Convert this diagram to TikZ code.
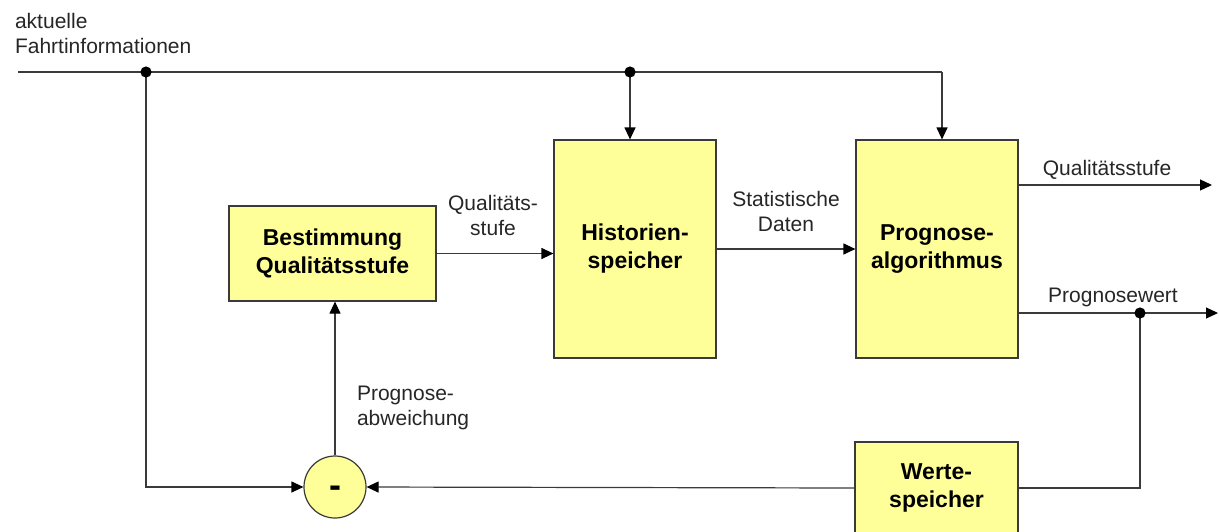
\documentclass[tikz,border=0pt]{standalone}
\usepackage{fontspec}
\setmainfont{Liberation Sans}
\usetikzlibrary{arrows.meta,calc,positioning}
\definecolor{boxfill}{HTML}{FFFF99}
\definecolor{wire}{HTML}{3A3A3A}
\tikzstyle{block} = [draw=wire, rectangle, fill=boxfill, line width=0.6pt, inner sep=0pt, align=center, font=\fontsize{11.5}{14}\selectfont\bfseries]
\tikzstyle{diffnode} = [draw=wire, circle, fill=boxfill, line width=0.6pt, inner sep=0pt, minimum size=31pt]
\tikzstyle{lbl} = [align=center, text=black!85, font=\fontsize{10.5}{12.5}\selectfont]
\tikzstyle{line} = [draw=wire, line width=0.6pt, -{Triangle[length=6pt,width=5.5pt,color=black]}]
\tikzstyle{wireline} = [draw=wire, line width=0.6pt]
\tikzstyle{dot} = [fill=black, circle, inner sep=0pt, minimum size=5.6pt]

\begin{document}
\begin{tikzpicture}[x=0.5pt, y=-0.5pt]
	\useasboundingbox (0,0) rectangle (1219,531);
	% blocks
	\node[block, minimum width=103.5pt, minimum height=47.5pt] (best) at (332.5,253.5) {Bestimmung\\Qualitätsstufe};
	\node[block, minimum width=81pt, minimum height=109pt] (hist) at (635,249) {Historien-\\speicher};
	\node[block, minimum width=81pt, minimum height=109pt] (prog) at (937,249) {Prognose-\\algorithmus};
	\node[block, minimum width=81.5pt, minimum height=46pt] (werte) at (936.5,488) {Werte-\\speicher};
	\node[diffnode] (diff) at (335,487) {};
	\node[font=\fontsize{18}{18}\selectfont\bfseries, yshift=-2.5pt] (minus) at (diff) {-};
	% wire points
	\coordinate (in) at (18,72);
	\coordinate (j1) at (146,72);
	\coordinate (j2) at (630,72);
	\coordinate (tcorner) at (942,72);
	\coordinate (outq) at (1212,185);
	\coordinate (outp) at (1218,313);
	\coordinate (j3) at (1140,313);

	\draw [wireline] (in) -- (tcorner);
	\path [line] (tcorner) -- (tcorner |- prog.north);
	\path [line] (j2) -- (j2 |- hist.north);
	\path [line] (j1) |- (diff.west);
	\path [line] (diff.north) -- (diff.north |- best.south);
	\path [line] (best.east) -- (best.east -| hist.west);
	\path [line] (hist.east) -- (prog.west);
	\path [line] (prog.east |- outq) -- (outq);
	\path [line] (prog.east |- outp) -- (outp);
	\draw [wireline] (j3) |- (werte.east);
	\path [line] (werte.west) -- (diff.east);

	\node[dot] at (j1){};
	\node[dot] at (j2){};
	\node[dot] at (j3){};

	% labels
	\node[lbl, align=left, anchor=north west] (info) at (8,6) {aktuelle\\Fahrtinformationen};
	\node[lbl] (qlbl) at (493,215) {Qualitäts-\\stufe};
	\node[lbl] (dlbl) at (786,211) {Statistische\\Daten};
	\node[lbl] (qout) at (1107,170) {Qualitätsstufe};
	\node[lbl] (pout) at (1113,297) {Prognosewert};
	\node[lbl, align=left, anchor=west] (abw) at (350,408) {Prognose-\\abweichung};
\end{tikzpicture}
\end{document}
